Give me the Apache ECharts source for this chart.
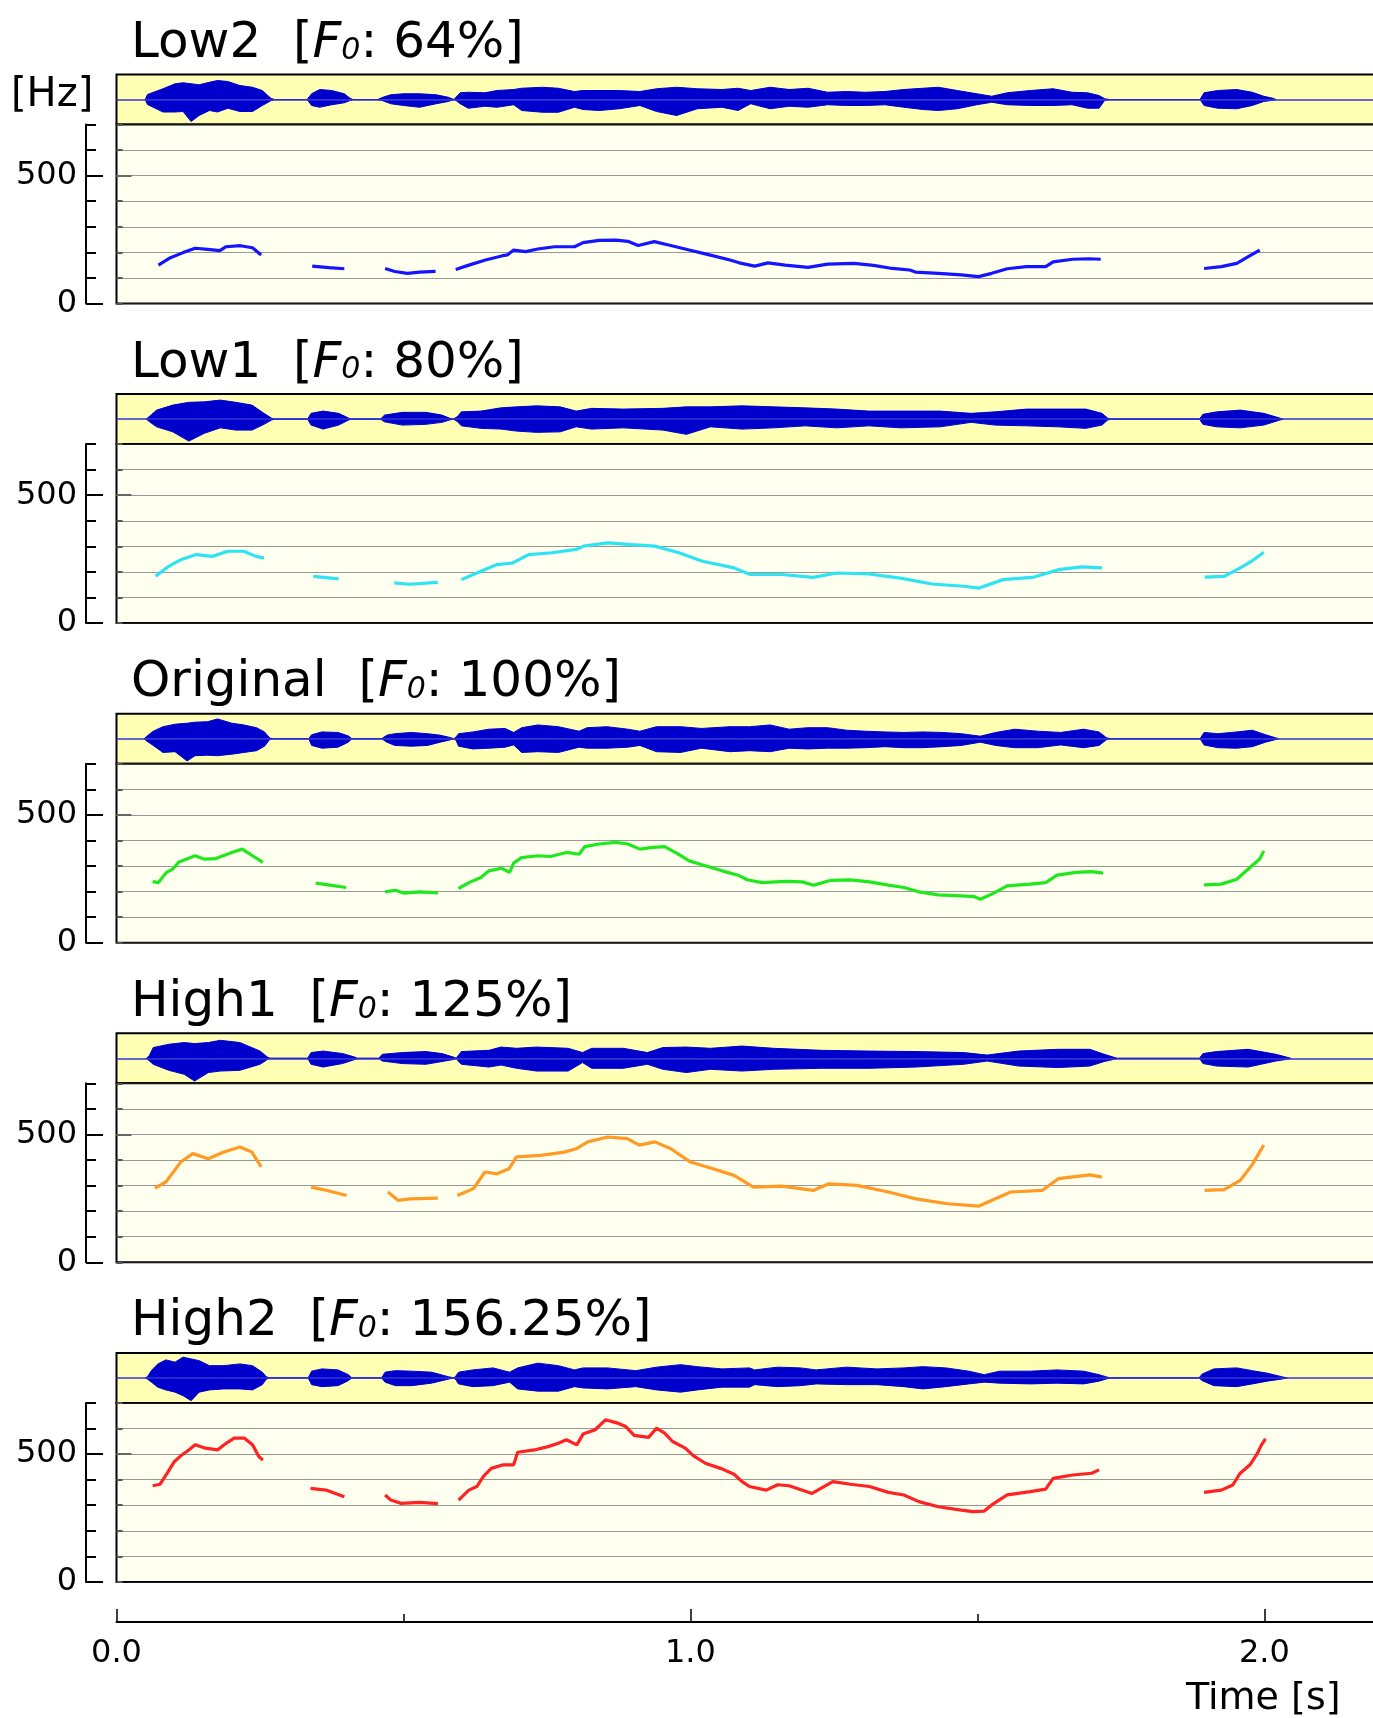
<!DOCTYPE html>
<html>
<head>
<meta charset="utf-8">
<title>Fo conversion</title>
<script src="https://cdn.jsdelivr.net/npm/echarts@6/dist/echarts.min.js"></script>
<style>
html, body { margin: 0; padding: 0; background: #fff; }
#chart { width: 1373px; height: 1718px; }
</style>
</head>
<body>
<div id="chart"></div>
<script>
// panel labels
var panelNames = ['Low2', 'Low1', 'Original', 'High1', 'High2'];
var panelRatios = ['64%', '80%', '100%', '125%', '156.25%'];
var panelColors = ['#1414ff', '#2ee3f2', '#1fe81f', '#ff9a22', '#ff2222'];

var hzMajor = [0, 500];
var timeMajor = [0, 1, 2];
var timeMinor = [0.5, 1.5];

// Fo contours: [time s, Hz], one sub-array per voiced stretch
var low2F0 = [
    [[.073,150],[.094,179],[.116,199],[.137,216],[.159,212],[.180,207],[.191,222],[.216,226],[.237,218],[.252,190]],
    [[.341,146],[.370,140],[.397,136]],
    [[.468,137],[.485,125],[.507,118],[.528,123],[.556,126]],
    [[.591,133],[.614,150],[.643,170],[.671,186],[.681,190],[.692,209],[.713,203],[.734,213],[.763,222],[.798,222],[.813,238],[.841,247],[.870,248],[.891,243],[.909,227],[.937,242],[.962,229],[.998,209],[1.033,190],[1.069,170],[1.085,159],[1.112,146],[1.135,159],[1.165,150],[1.205,141],[1.239,154],[1.285,157],[1.319,149],[1.352,137],[1.382,131],[1.392,123],[1.432,118],[1.472,112],[1.502,105],[1.525,118],[1.552,136],[1.585,144],[1.619,144],[1.632,163],[1.666,173],[1.695,175],[1.715,173]],
    [[1.895,137],[1.925,144],[1.952,157],[1.972,183],[1.992,209]]
];
var low1F0 = [
    [[.068,183],[.091,222],[.112,248],[.139,268],[.167,261],[.194,281],[.222,281],[.243,261],[.257,255]],
    [[.343,183],[.365,178],[.387,173]],
    [[.484,157],[.511,152],[.560,159]],
    [[.601,170],[.635,203],[.663,229],[.690,235],[.718,268],[.759,275],[.801,288],[.814,301],[.856,314],[.897,307],[.938,301],[.980,275],[1.021,242],[1.076,216],[1.104,190],[1.159,190],[1.214,179],[1.255,196],[1.311,192],[1.366,176],[1.421,153],[1.476,144],[1.503,137],[1.545,170],[1.599,180],[1.641,209],[1.682,220],[1.717,216]],
    [[1.896,180],[1.930,183],[1.958,216],[1.978,242],[1.999,277]]
];
var origF0 = [
    [[.063,239],[.073,235],[.087,275],[.098,288],[.109,316],[.137,340],[.152,327],[.173,329],[.201,353],[.219,366],[.233,346],[.255,314]],
    [[.347,233],[.372,225],[.400,216]],
    [[.468,199],[.486,205],[.500,194],[.528,199],[.560,195]],
    [[.596,212],[.614,235],[.635,255],[.649,281],[.671,291],[.685,275],[.692,311],[.706,333],[.734,340],[.756,337],[.784,353],[.806,346],[.816,376],[.841,386],[.870,392],[.891,386],[.912,366],[.934,373],[.955,376],[.976,350],[.998,320],[1.026,301],[1.055,281],[1.083,264],[1.099,246],[1.125,235],[1.165,240],[1.195,238],[1.215,225],[1.245,244],[1.279,246],[1.312,238],[1.345,225],[1.372,216],[1.398,199],[1.432,187],[1.472,183],[1.495,180],[1.505,170],[1.525,190],[1.552,222],[1.592,229],[1.619,235],[1.639,264],[1.672,275],[1.699,278],[1.719,272]],
    [[1.895,226],[1.925,229],[1.952,248],[1.972,288],[1.992,327],[1.999,359]]
];
var high1F0 = [
    [[.067,290],[.086,314],[.112,392],[.133,425],[.160,405],[.187,431],[.215,451],[.236,431],[.252,373]],
    [[.339,294],[.367,281],[.401,261]],
    [[.473,275],[.491,242],[.511,248],[.560,251]],
    [[.594,261],[.622,288],[.642,353],[.663,346],[.684,366],[.697,412],[.739,418],[.780,431],[.801,444],[.821,471],[.856,490],[.890,484],[.911,458],[.938,471],[.966,444],[1.000,392],[1.035,369],[1.076,340],[1.110,294],[1.159,298],[1.214,281],[1.241,307],[1.290,301],[1.345,275],[1.393,248],[1.448,229],[1.503,220],[1.558,275],[1.613,281],[1.641,327],[1.696,342],[1.717,333]],
    [[1.896,281],[1.930,284],[1.958,320],[1.978,379],[1.999,458]]
];
var high2F0 = [
    [[.063,376],[.076,382],[.090,431],[.101,471],[.112,493],[.126,516],[.137,536],[.155,523],[.176,516],[.191,542],[.205,562],[.223,562],[.237,536],[.248,490],[.255,477]],
    [[.338,366],[.365,359],[.397,333]],
    [[.468,340],[.478,320],[.496,307],[.528,311],[.560,306]],
    [[.596,320],[.614,359],[.628,373],[.639,412],[.653,444],[.674,458],[.692,458],[.699,507],[.728,516],[.752,529],[.770,542],[.784,556],[.802,536],[.813,578],[.834,595],[.852,634],[.873,621],[.887,608],[.902,573],[.927,565],[.941,601],[.955,582],[.969,549],[.991,523],[1.005,494],[1.026,464],[1.055,442],[1.076,421],[1.090,392],[1.103,373],[1.132,359],[1.152,380],[1.172,376],[1.212,346],[1.248,392],[1.279,382],[1.312,373],[1.345,350],[1.372,340],[1.398,314],[1.432,294],[1.472,281],[1.492,275],[1.512,277],[1.525,301],[1.552,340],[1.592,353],[1.619,363],[1.632,405],[1.666,418],[1.699,425],[1.712,438]],
    [[1.895,350],[1.925,359],[1.945,379],[1.958,425],[1.975,458],[1.988,503],[1.995,536],[2.002,559]]
];

// waveform envelopes: [time s, upper, lower] (1 = half of the band)
var low2Wave = [
    [.050,0,0],[.054,.2,.2],[.081,.43,.5],[.102,.63,.5],[.116,.67,.48],[.130,.63,.88],[.144,.59,.64],[.162,.69,.44],[.176,.76,.5],[.194,.72,.35],[.215,.56,.48],[.237,.49,.48],[.254,.36,.24],[.269,.05,.05],[.275,0,0],
    [.332,0,0],[.340,.23,.24],[.354,.4,.31],[.375,.36,.21],[.397,.23,.13],[.407,.05,.04],[.412,0,0],
    [.455,0,0],[.464,.09,.05],[.478,.19,.17],[.500,.23,.24],[.528,.23,.31],[.557,.19,.17],[.578,.09,.08],[.588,0,0],
    [.592,.1,.05],[.599,.27,.17],[.613,.29,.35],[.642,.27,.27],[.663,.36,.31],[.692,.4,.21],[.706,.45,.44],[.742,.49,.51],[.770,.45,.51],[.798,.32,.31],[.813,.36,.4],[.841,.36,.44],[.876,.36,.37],[.912,.32,.24],[.941,.43,.48],[.976,.49,.64],[1.012,.43,.37],[1.055,.4,.31],[1.083,.45,.44],[1.105,.36,.17],[1.139,.49,.37],[1.172,.4,.27],[1.205,.45,.31],[1.239,.29,.21],[1.272,.32,.24],[1.305,.29,.24],[1.339,.32,.21],[1.372,.4,.31],[1.405,.45,.4],[1.432,.49,.44],[1.465,.36,.37],[1.499,.23,.21],[1.525,.13,.11],[1.552,.27,.21],[1.592,.36,.24],[1.632,.43,.24],[1.665,.29,.21],[1.692,.27,.35],[1.712,.16,.35],[1.722,.03,.03],[1.730,0,0],
    [1.888,0,0],[1.895,.27,.24],[1.919,.36,.35],[1.952,.4,.37],[1.979,.29,.24],[1.999,.13,.08],[2.015,.05,.03],[2.020,0,0]
];
var low1Wave = [
    [.052,0,0],[.057,.1,.1],[.070,.36,.31],[.098,.56,.51],[.126,.67,.88],[.153,.69,.57],[.181,.76,.35],[.208,.67,.44],[.236,.56,.44],[.257,.23,.21],[.270,.04,.04],[.276,0,0],
    [.333,0,0],[.339,.23,.24],[.360,.32,.4],[.387,.23,.24],[.401,.08,.08],[.408,0,0],
    [.460,0,0],[.467,.16,.11],[.498,.27,.24],[.539,.27,.21],[.567,.16,.13],[.580,.04,.04],[.587,0,0],
    [.594,.1,.1],[.601,.29,.27],[.635,.32,.37],[.670,.45,.4],[.697,.49,.48],[.732,.53,.53],[.773,.49,.51],[.801,.32,.31],[.828,.43,.4],[.883,.4,.35],[.952,.43,.44],[.993,.49,.61],[1.035,.49,.31],[1.090,.53,.4],[1.145,.49,.35],[1.200,.45,.27],[1.255,.4,.35],[1.311,.32,.27],[1.366,.32,.35],[1.435,.32,.31],[1.489,.23,.13],[1.531,.29,.24],[1.586,.4,.27],[1.641,.4,.31],[1.689,.4,.37],[1.717,.23,.24],[1.727,.04,.04],[1.733,0,0],
    [1.887,0,0],[1.893,.19,.21],[1.917,.29,.31],[1.958,.36,.35],[1.999,.23,.24],[2.027,.04,.04],[2.033,0,0]
];
var origWave = [
    [.048,0,0],[.053,.1,.1],[.064,.3,.27],[.081,.48,.55],[.102,.58,.52],[.123,.62,.89],[.137,.66,.68],[.159,.68,.66],[.176,.79,.68],[.201,.62,.62],[.222,.55,.55],[.244,.44,.48],[.258,.27,.3],[.267,.03,.03],[.272,0,0],
    [.335,0,0],[.340,.16,.27],[.358,.27,.38],[.386,.25,.34],[.404,.11,.14],[.410,0,0],
    [.462,0,0],[.471,.14,.14],[.485,.2,.27],[.514,.25,.3],[.542,.2,.27],[.564,.14,.14],[.581,.05,.05],[.588,0,0],
    [.592,.08,.08],[.596,.2,.3],[.621,.27,.41],[.649,.38,.38],[.677,.41,.34],[.692,.25,.25],[.706,.44,.55],[.734,.55,.52],[.770,.48,.55],[.806,.3,.34],[.820,.44,.38],[.855,.48,.38],[.891,.38,.34],[.912,.3,.27],[.941,.48,.52],[.983,.48,.55],[1.019,.41,.38],[1.069,.48,.52],[1.103,.48,.48],[1.139,.55,.52],[1.172,.38,.38],[1.205,.44,.41],[1.239,.44,.38],[1.272,.34,.38],[1.305,.3,.36],[1.339,.27,.32],[1.372,.25,.36],[1.405,.27,.36],[1.439,.25,.32],[1.472,.2,.27],[1.505,.1,.14],[1.532,.25,.27],[1.565,.38,.36],[1.605,.3,.36],[1.645,.25,.25],[1.685,.38,.36],[1.712,.27,.27],[1.725,.04,.04],[1.732,0,0],
    [1.888,0,0],[1.895,.25,.25],[1.919,.2,.36],[1.952,.27,.38],[1.979,.34,.32],[2.002,.16,.14],[2.019,.04,.04],[2.025,0,0]
];
var high1Wave = [
    [.052,0,0],[.057,.1,.1],[.064,.43,.24],[.091,.56,.48],[.118,.63,.64],[.136,.59,.91],[.160,.63,.57],[.181,.72,.51],[.215,.63,.48],[.250,.29,.24],[.263,.05,.05],[.268,0,0],
    [.333,0,0],[.339,.23,.24],[.360,.29,.35],[.394,.19,.21],[.415,.05,.05],[.420,0,0],
    [.457,0,0],[.463,.16,.11],[.498,.23,.21],[.539,.27,.24],[.567,.19,.13],[.587,.05,.05],[.592,0,0],
    [.595,.1,.1],[.601,.27,.24],[.649,.32,.35],[.670,.45,.27],[.697,.4,.4],[.732,.45,.51],[.787,.4,.51],[.812,.23,.17],[.828,.4,.4],[.883,.4,.4],[.925,.23,.24],[.952,.43,.44],[.993,.45,.57],[1.035,.4,.44],[1.090,.49,.51],[1.145,.4,.44],[1.228,.32,.4],[1.311,.29,.4],[1.393,.27,.35],[1.476,.23,.24],[1.517,.13,.11],[1.572,.29,.31],[1.641,.36,.37],[1.696,.36,.31],[1.721,.16,.13],[1.738,.04,.04],[1.744,0,0],
    [1.887,0,0],[1.893,.19,.21],[1.917,.27,.31],[1.972,.36,.35],[2.020,.16,.11],[2.040,.04,.04],[2.046,0,0]
];
var high2Wave = [
    [.050,0,0],[.054,.05,.05],[.061,.3,.17],[.072,.56,.37],[.086,.72,.48],[.102,.63,.57],[.116,.83,.71],[.130,.76,.91],[.144,.69,.57],[.162,.49,.48],[.187,.49,.44],[.215,.56,.44],[.237,.49,.48],[.254,.23,.27],[.261,.05,.05],[.266,0,0],
    [.334,0,0],[.340,.27,.27],[.358,.36,.35],[.386,.32,.31],[.404,.13,.11],[.410,0,0],
    [.462,0,0],[.468,.23,.17],[.486,.29,.31],[.514,.27,.31],[.549,.23,.21],[.578,.05,.05],[.588,0,0],
    [.592,.1,.1],[.596,.23,.24],[.621,.32,.35],[.656,.4,.31],[.685,.23,.17],[.699,.4,.44],[.734,.59,.53],[.770,.49,.53],[.798,.32,.35],[.813,.4,.4],[.855,.4,.44],[.905,.29,.35],[.941,.43,.48],[.983,.53,.57],[1.012,.45,.48],[1.055,.36,.37],[1.103,.4,.37],[1.112,.32,.27],[1.152,.43,.35],[1.192,.4,.31],[1.219,.32,.24],[1.272,.43,.27],[1.325,.36,.27],[1.372,.4,.35],[1.405,.45,.44],[1.445,.4,.35],[1.485,.27,.24],[1.512,.13,.17],[1.539,.27,.21],[1.592,.27,.24],[1.639,.32,.21],[1.685,.27,.24],[1.712,.13,.13],[1.725,.04,.04],[1.732,0,0],
    [1.886,0,0],[1.892,.16,.11],[1.912,.36,.31],[1.952,.4,.35],[1.979,.29,.24],[2.005,.19,.13],[2.032,.04,.04],[2.040,0,0]
];

var f0Sets = [low2F0, low1F0, origF0, high1F0, high2F0];
var waveSets = [low2Wave, low1Wave, origWave, high1Wave, high2Wave];

// ---- layout ----
var FONT = '"DejaVu Sans"';
var GRID_LEFT = 116.5;
var GRID_WIDTH = 1320;   // runs past the right edge, as in the figure
var T_MAX = 2.3;
var PITCH = 319.6;       // vertical distance between panels
var WAVE_H = 50;
var F0_H = 179;

var waveTop = function (i) { return 74.5 + PITCH * i; };

var measureCtx = document.createElement('canvas').getContext('2d');
var textWidth = function (str, font) {
    measureCtx.font = font;
    return measureCtx.measureText(str).width;
};

// join the voiced stretches with null gaps
var joinSegments = function (segs) {
    var out = [];
    segs.forEach(function (s, k) {
        if (k > 0) out.push(null);
        s.forEach(function (p) { out.push(p); });
    });
    return out;
};

var grids = [], xAxes = [], yAxes = [], series = [], graphics = [];

for (var i = 0; i < 5; i++) {
    var wt = waveTop(i);
    grids.push({
        left: GRID_LEFT, width: GRID_WIDTH, top: wt, height: WAVE_H,
        show: true, backgroundColor: '#ffffb4', borderColor: '#000', borderWidth: 2,
        outerBoundsMode: 'none'
    });
    grids.push({
        left: GRID_LEFT, width: GRID_WIDTH, top: wt + WAVE_H, height: F0_H,
        show: true, backgroundColor: '#fffff0', borderColor: '#000', borderWidth: 2,
        outerBoundsMode: 'none'
    });
    xAxes.push({gridIndex: 2 * i, type: 'value', min: 0, max: T_MAX, show: false});
    xAxes.push({gridIndex: 2 * i + 1, type: 'value', min: 0, max: T_MAX, show: false});

    var yBase = yAxes.length;
    // waveform amplitude
    yAxes.push({gridIndex: 2 * i, type: 'value', min: -1, max: 1, show: false});
    // Hz axis: line, minor ticks, dotted grid
    yAxes.push({
        gridIndex: 2 * i + 1, type: 'value', min: 0, max: 700, interval: 100,
        position: 'left', offset: 30.5,
        axisLine: {show: true, onZero: false, lineStyle: {color: '#000', width: 2}},
        axisTick: {show: true, inside: true, length: 10, lineStyle: {color: '#000', width: 2}},
        axisLabel: {show: false},
        splitLine: {show: true, lineStyle: {type: [1, 1], color: '#333', width: 1}}
    });
    // Hz axis: long ticks + labels
    yAxes.push({
        gridIndex: 2 * i + 1, type: 'value', min: 0, max: 700,
        position: 'left', offset: 30.5,
        axisLine: {show: false, onZero: false},
        axisTick: {show: true, inside: true, length: 17, customValues: hzMajor,
            lineStyle: {color: '#000', width: 2}},
        axisLabel: {show: true, customValues: hzMajor, margin: 9, fontSize: 32,
            fontFamily: FONT, color: '#000'},
        splitLine: {show: false}
    });
    // small ticks on the frame itself
    yAxes.push({
        gridIndex: 2 * i + 1, type: 'value', min: 0, max: 700, interval: 100,
        position: 'left', offset: 0,
        axisLine: {show: false, onZero: false},
        axisTick: {show: true, inside: true, length: 6, lineStyle: {color: '#555', width: 2}},
        axisLabel: {show: false}, splitLine: {show: false}
    });
    yAxes.push({
        gridIndex: 2 * i + 1, type: 'value', min: 0, max: 700,
        position: 'left', offset: 0,
        axisLine: {show: false, onZero: false},
        axisTick: {show: true, inside: true, length: 15, customValues: [500],
            lineStyle: {color: '#666', width: 2}},
        axisLabel: {show: false}, splitLine: {show: false}
    });

    var wave = waveSets[i];
    series.push({
        type: 'line', xAxisIndex: 2 * i, yAxisIndex: yBase,
        data: wave.map(function (d) { return [d[0], d[1]]; }),
        symbol: 'none', silent: true,
        lineStyle: {color: '#0000cc', width: 1},
        areaStyle: {color: '#0000cc', opacity: 1, origin: 0},
        markLine: {
            silent: true, symbol: 'none', label: {show: false},
            lineStyle: {color: '#3434d4', width: 1.5, type: 'solid'},
            data: [{yAxis: 0}]
        }
    });
    series.push({
        type: 'line', xAxisIndex: 2 * i, yAxisIndex: yBase,
        data: wave.map(function (d) { return [d[0], -d[2]]; }),
        symbol: 'none', silent: true,
        lineStyle: {color: '#0000cc', width: 1},
        areaStyle: {color: '#0000cc', opacity: 1, origin: 0}
    });
    series.push({
        type: 'line', xAxisIndex: 2 * i + 1, yAxisIndex: yBase + 1,
        data: joinSegments(f0Sets[i]), connectNulls: false,
        symbol: 'none', silent: true,
        lineStyle: {color: panelColors[i], width: 3.2}
    });

    // title: name [Fo: ratio], italic F with small 0
    var baseline = wt - 13;
    var parts = [
        {text: panelNames[i] + '  [', size: 50, italic: false},
        {text: 'F', size: 50, italic: true},
        {text: '0', size: 30, italic: true},
        {text: ': ' + panelRatios[i] + ']', size: 50, italic: false}
    ];
    var tx = 131;
    parts.forEach(function (p) {
        var font = (p.italic ? 'italic ' : '') + p.size + 'px ' + FONT;
        graphics.push({
            type: 'text', x: tx, y: baseline - 0.35 * p.size, silent: true,
            style: {text: p.text, font: font, fill: '#000', align: 'left', verticalAlign: 'middle'}
        });
        tx += textWidth(p.text, font);
    });
}

// time axis below the panels
grids.push({left: GRID_LEFT, width: GRID_WIDTH, top: 1621, height: 1, outerBoundsMode: 'none'});
xAxes.push({
    gridIndex: 10, type: 'value', min: 0, max: T_MAX, position: 'bottom',
    axisLine: {show: true, onZero: false, lineStyle: {color: '#000', width: 2}},
    axisTick: {show: true, inside: true, length: 13, customValues: timeMajor,
        lineStyle: {color: '#000', width: 1.5}},
    axisLabel: {show: true, customValues: timeMajor, margin: 16, fontSize: 32,
        fontFamily: FONT, color: '#000',
        formatter: function (v) { return v.toFixed(1); }},
    splitLine: {show: false}
});
xAxes.push({
    gridIndex: 10, type: 'value', min: 0, max: T_MAX, position: 'bottom',
    axisLine: {show: false, onZero: false},
    axisTick: {show: true, inside: true, length: 8, customValues: timeMinor,
        lineStyle: {color: '#000', width: 1.5}},
    axisLabel: {show: false},
    splitLine: {show: false}
});
yAxes.push({gridIndex: 10, type: 'value', min: 0, max: 1, show: false});

graphics.push({
    type: 'text', x: 11, y: 96, silent: true,
    style: {text: '[Hz]', font: '40px ' + FONT, fill: '#000', align: 'left', verticalAlign: 'middle'}
});
graphics.push({
    type: 'text', x: 1186, y: 1699, silent: true,
    style: {text: 'Time [s]', font: '38px ' + FONT, fill: '#000', align: 'left', verticalAlign: 'middle'}
});

var chart = echarts.init(document.getElementById('chart'), null, {renderer: 'canvas'});
chart.setOption({
    animation: false,
    backgroundColor: '#fff',
    grid: grids,
    xAxis: xAxes,
    yAxis: yAxes,
    series: series,
    graphic: graphics
});
window.addEventListener('resize', function () { chart.resize(); });
</script>
</body>
</html>
